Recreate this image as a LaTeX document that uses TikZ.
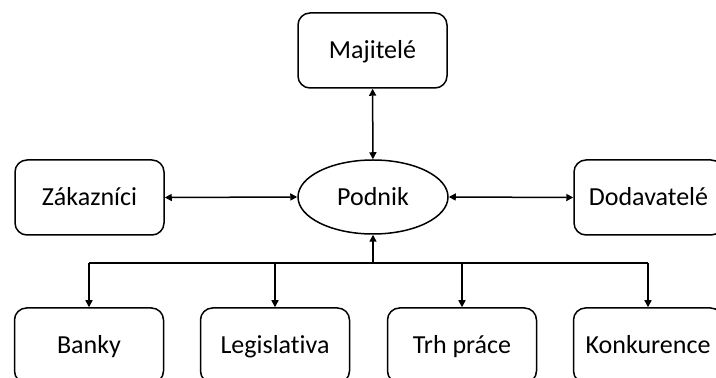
\documentclass[tikz,border=0pt]{standalone}
\usepackage{fontspec}
\setmainfont[Ligatures={NoCommon}]{Carlito}
\usetikzlibrary{arrows.meta,shapes.geometric}
\begin{document}
\begin{tikzpicture}[x=0.5pt,y=-0.5pt,
  label text/.style={font=\fontsize{13}{15}\selectfont, text height=8.4pt, text depth=0pt},
  box/.style={draw, rounded corners=6pt, line width=0.75pt, minimum width=74.5pt,
    minimum height=37.5pt, inner sep=0pt, label text},
  hub/.style={draw, ellipse, line width=0.75pt, minimum width=75pt,
    minimum height=37pt, inner sep=0pt, label text},
  tip/.tip={Triangle[length=3.5pt,width=3.5pt]},
  both/.style={line width=0.75pt, tip-tip},
  fwd/.style={line width=0.75pt, -tip},
  bus/.style={line width=0.75pt}
]
\clip (0,0) rectangle (716,378);

% central company and its partners
\node[box] (maj) at (372.5,50.5) {Majitelé};
\node[hub] (pod) at (373,197) {Podnik};
\node[box] (zak) at (89.5,197.5) {Zákazníci};
\node[box] (dod) at (648.5,197.5) {Dodavatelé};

% bottom row of influences
\node[box] (ban) at (89,345.5) {Banky};
\node[box] (leg) at (275,345.5) {Legislativa};
\node[box] (trh) at (462,345.5) {Trh práce};
\node[box] (kon) at (648,345.5) {Konkurence};

% two-way links
\draw[both] (maj) -- (pod);
\draw[both] (zak.east) -- (pod.west);
\draw[both] (pod.east) -- (dod.west);

% distribution bus below the company
\coordinate (bus) at (373,263);
\draw[fwd] (bus) -- (pod.south);
\draw[bus] (ban.north |- bus) -- (kon.north |- bus);
\foreach \n in {ban,leg,trh,kon}
  \draw[fwd] (\n.north |- bus) -- (\n.north);
\end{tikzpicture}
\end{document}
